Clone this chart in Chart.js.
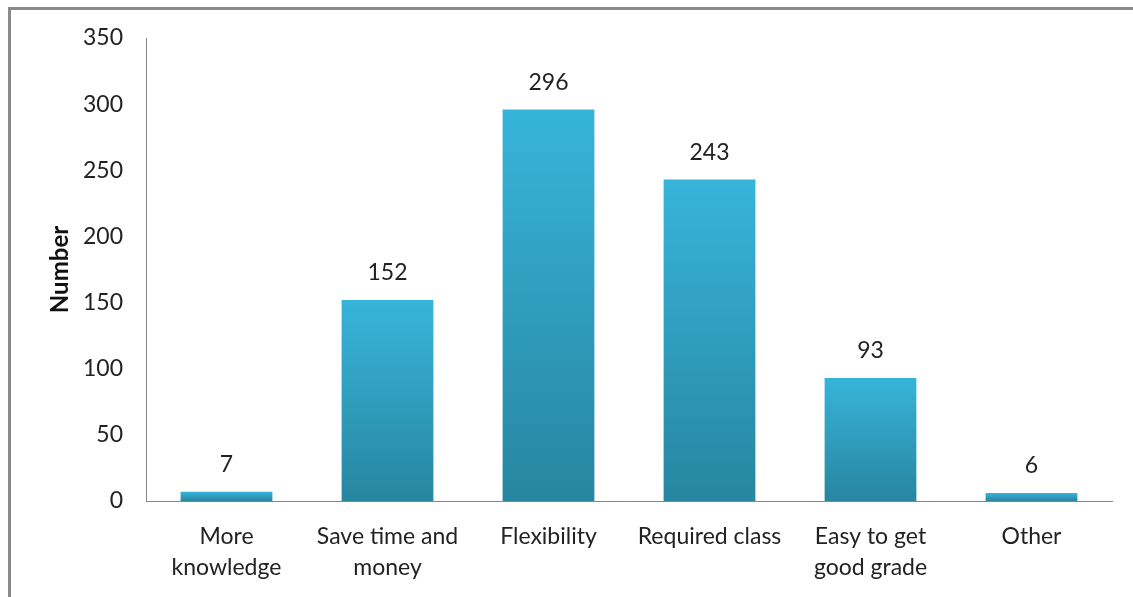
<!DOCTYPE html>
<html lang="en">

<head>
    <meta charset="UTF-8">
    <title>Reasons for Taking the Course</title>
    <script src="https://cdn.jsdelivr.net/npm/chart.js"></script>
    <style>
        body {
            margin: 0;
            background: #fff;
        }

        /* outer frame: only top and left edges fall inside the page */
        #frame {
            position: absolute;
            left: 8px;
            top: 7px;
            width: 1200px;
            height: 700px;
            border-top: 3px solid #8a8a8a;
            border-left: 3px solid #8a8a8a;
        }

        #wrap {
            position: absolute;
            left: 0;
            top: 0;
            width: 1133px;
            height: 597px;
        }
    </style>
</head>

<body>
    <div id="frame"></div>
    <div id="wrap">
        <canvas id="barChart" width="1133" height="597"></canvas>
    </div>

    <script>
        // categories and counts
        const categories = [
            ['More', 'knowledge'],
            ['Save time and', 'money'],
            'Flexibility',
            'Required class',
            ['Easy to get', 'good grade'],
            'Other'
        ];
        const counts = [7, 152, 296, 243, 93, 6];
        const yTicks = [0, 50, 100, 150, 200, 250, 300, 350];

        const fontFamily = 'Lato, "Open Sans", sans-serif';

        // per-bar vertical gradient, light at the top, darker at the base
        function barFill(context) {
            const chart = context.chart;
            const y = chart.scales.y;
            if (!chart.chartArea || !y || context.parsed === undefined) return '#33acd0';
            const top = y.getPixelForValue(context.parsed.y);
            const base = y.getPixelForValue(0);
            if (!isFinite(top) || !isFinite(base) || base - top < 1) return '#33acd0';
            const g = chart.ctx.createLinearGradient(0, top, 0, base);
            g.addColorStop(0, '#37b4da');
            g.addColorStop(1, '#2786a0');
            return g;
        }

        // value labels above each bar
        const valueLabels = {
            id: 'valueLabels',
            afterDatasetsDraw(chart) {
                const ctx = chart.ctx;
                const meta = chart.getDatasetMeta(0);
                ctx.save();
                ctx.font = '23px ' + fontFamily;
                ctx.fillStyle = '#222';
                ctx.textAlign = 'center';
                ctx.textBaseline = 'middle';
                meta.data.forEach((bar, i) => {
                    ctx.fillText(String(counts[i]), bar.x, bar.y - 27);
                });
                ctx.restore();
            }
        };

        const ctx = document.getElementById('barChart').getContext('2d');
        new Chart(ctx, {
            type: 'bar',
            data: {
                labels: categories,
                datasets: [{
                    data: counts,
                    backgroundColor: barFill,
                    categoryPercentage: 1,
                    barPercentage: 0.57
                }]
            },
            options: {
                responsive: false,
                animation: false,
                layout: {
                    padding: { top: 38, right: 21, bottom: 0, left: 0 }
                },
                plugins: {
                    legend: { display: false },
                    tooltip: { enabled: false }
                },
                scales: {
                    x: {
                        grid: { display: false, drawTicks: false },
                        border: { color: '#868686', width: 1 },
                        ticks: {
                            color: '#222',
                            padding: 20,
                            font: { family: fontFamily, size: 23, lineHeight: 1.35 },
                            maxRotation: 0,
                            autoSkip: false
                        },
                        afterFit(scale) { scale.height = 96; }
                    },
                    y: {
                        min: 0,
                        max: 350,
                        afterBuildTicks(scale) {
                            scale.ticks = yTicks.map(v => ({ value: v }));
                        },
                        grid: { display: false, drawTicks: false },
                        border: { color: '#868686', width: 1 },
                        ticks: {
                            color: '#222',
                            padding: 23,
                            font: { family: fontFamily, size: 23 }
                        },
                        title: {
                            display: true,
                            text: 'Number',
                            color: '#111',
                            padding: { top: 46, bottom: 0 },
                            font: { family: fontFamily, size: 24, weight: 'bold' }
                        },
                        afterFit(scale) { scale.width = 146; }
                    }
                }
            },
            plugins: [valueLabels]
        });
    </script>
</body>

</html>
